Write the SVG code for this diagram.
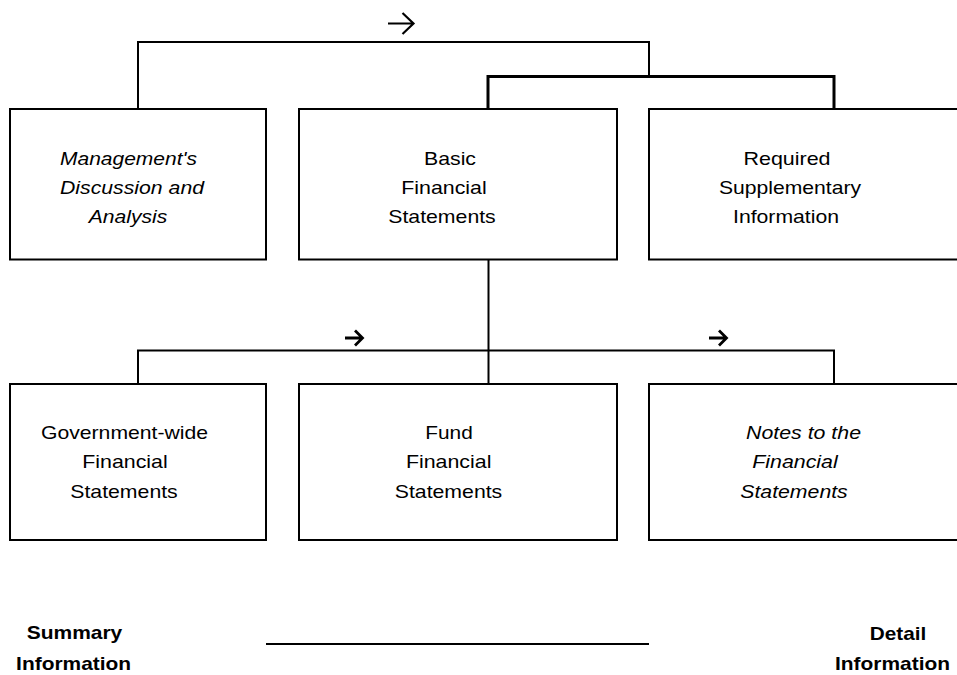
<svg xmlns="http://www.w3.org/2000/svg" width="957" height="675" viewBox="0 0 957 675">
<style>
.box{fill:#fff;stroke:#000;stroke-width:2}
.ln{fill:none;stroke:#000;stroke-width:2}
.thick{stroke-width:3}
.arr{fill:none;stroke:#000;stroke-width:2.2;stroke-linecap:butt}
.arrb{stroke-width:2.8}
text{font-family:"Liberation Sans",Arial,sans-serif;font-size:18.5px;fill:#000;text-anchor:middle}
.it{font-style:italic}
.b{font-weight:bold}
</style>
<rect width="957" height="675" fill="#fff"/>
<g id="connectors">
  <path class="ln" d="M138 109 V42 H649 V77"/>
  <path class="ln thick" d="M488 109 V76.5 H834 V109"/>
  <path class="ln" d="M488.5 259 V384"/>
  <path class="ln" d="M138 384 V350.5 H834 V384"/>
  <path class="ln" d="M266 644 H649"/>
  <path class="arr" d="M388 23.5 H413 M402.5 13 L413.5 23.5 L402.5 34"/>
  <path class="arr arrb" d="M345 338 H362 M355 330.5 L362.5 338 L355 345.5"/>
  <path class="arr arrb" d="M709 338 H726 M719 330.5 L726.5 338 L719 345.5"/>
</g>
<g id="mda">
  <rect class="box" x="10" y="109" width="256" height="150.5"/>
  <text class="it" x="128.5" y="164.5" textLength="137" lengthAdjust="spacingAndGlyphs">Management's</text>
  <text class="it" x="132" y="193.5" textLength="144" lengthAdjust="spacingAndGlyphs">Discussion and</text>
  <text class="it" x="128" y="223" textLength="78.5" lengthAdjust="spacingAndGlyphs">Analysis</text>
</g>
<g id="bfs">
  <rect class="box" x="299" y="109" width="318" height="150.5"/>
  <text x="450" y="164.5" textLength="52" lengthAdjust="spacingAndGlyphs">Basic</text>
  <text x="444" y="193.5" textLength="85.5" lengthAdjust="spacingAndGlyphs">Financial</text>
  <text x="442" y="223" textLength="107.5" lengthAdjust="spacingAndGlyphs">Statements</text>
</g>
<g id="rsi">
  <rect class="box" x="649" y="109" width="330" height="150.5"/>
  <text x="787" y="164.5" textLength="87" lengthAdjust="spacingAndGlyphs">Required</text>
  <text x="790" y="193.5" textLength="142" lengthAdjust="spacingAndGlyphs">Supplementary</text>
  <text x="786" y="223" textLength="106" lengthAdjust="spacingAndGlyphs">Information</text>
</g>
<g id="gwfs">
  <rect class="box" x="10" y="384" width="256" height="156"/>
  <text x="124.5" y="438.5" textLength="167" lengthAdjust="spacingAndGlyphs">Government-wide</text>
  <text x="125" y="468" textLength="85.5" lengthAdjust="spacingAndGlyphs">Financial</text>
  <text x="124" y="497.5" textLength="107.5" lengthAdjust="spacingAndGlyphs">Statements</text>
</g>
<g id="ffs">
  <rect class="box" x="299" y="384" width="318" height="156"/>
  <text x="449" y="438.5" textLength="47.5" lengthAdjust="spacingAndGlyphs">Fund</text>
  <text x="448.7" y="468" textLength="85.5" lengthAdjust="spacingAndGlyphs">Financial</text>
  <text x="448.5" y="497.5" textLength="107.5" lengthAdjust="spacingAndGlyphs">Statements</text>
</g>
<g id="notes">
  <rect class="box" x="649" y="384" width="330" height="156"/>
  <text class="it" x="803.5" y="438.5" textLength="115" lengthAdjust="spacingAndGlyphs">Notes to the</text>
  <text class="it" x="795" y="468" textLength="85.5" lengthAdjust="spacingAndGlyphs">Financial</text>
  <text class="it" x="794" y="497.5" textLength="107.5" lengthAdjust="spacingAndGlyphs">Statements</text>
</g>
<g id="summary">
  <text class="b" x="74.5" y="639" textLength="95.6" lengthAdjust="spacingAndGlyphs">Summary</text>
  <text class="b" x="73.6" y="670" textLength="115" lengthAdjust="spacingAndGlyphs">Information</text>
</g>
<g id="detail">
  <text class="b" x="898" y="639.5" textLength="56.5" lengthAdjust="spacingAndGlyphs">Detail</text>
  <text class="b" x="892.5" y="670" textLength="115" lengthAdjust="spacingAndGlyphs">Information</text>
</g>
</svg>
